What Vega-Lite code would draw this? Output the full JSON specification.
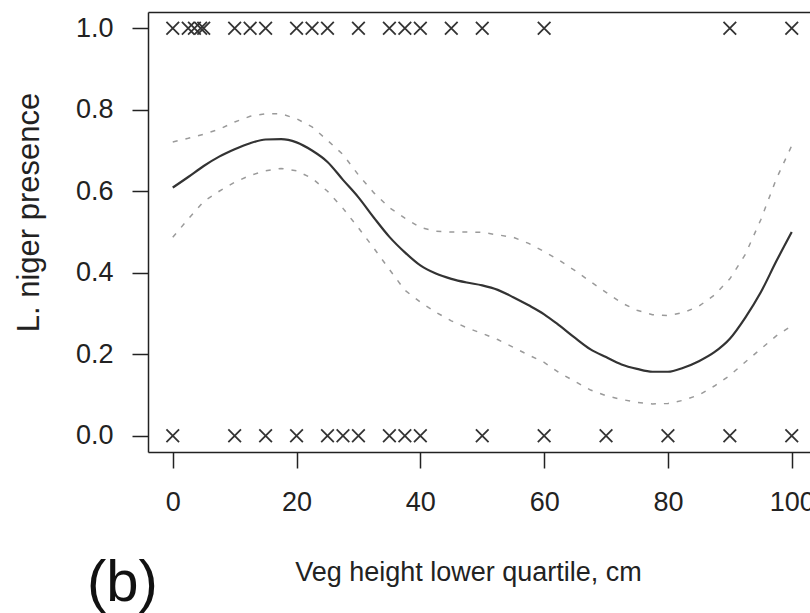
{
  "$schema": "https://vega.github.io/schema/vega-lite/v6.json",
  "width": 662,
  "height": 440,
  "autosize": {"type": "none"},
  "padding": {"left": 148, "top": 12, "right": 0, "bottom": 161},
  "background": "white",
  "config": {
    "view": {"stroke": null},
    "font": "Liberation Sans",
    "axis": {
      "grid": false,
      "labelFont": "Liberation Sans",
      "titleFont": "Liberation Sans",
      "labelFontSize": 27,
      "titleFontSize": 27,
      "titleFontWeight": "normal",
      "labelColor": "#222",
      "titleColor": "#222",
      "domainColor": "#222",
      "domainWidth": 1.5,
      "tickColor": "#222",
      "tickWidth": 1.5,
      "tickSize": 16
    }
  },
  "title": {
    "text": "(b)",
    "orient": "bottom",
    "anchor": "start",
    "frame": "group",
    "fontSize": 58,
    "fontWeight": "normal",
    "font": "Liberation Sans",
    "color": "#111",
    "dx": -61,
    "offset": -30
  },
  "datasets": {
    "fit": [
      {"veg": 0, "fit": 0.609, "upper": 0.721, "lower": 0.487},
      {"veg": 2.5, "fit": 0.635, "upper": 0.730, "lower": 0.532},
      {"veg": 5, "fit": 0.662, "upper": 0.740, "lower": 0.575},
      {"veg": 7.5, "fit": 0.685, "upper": 0.752, "lower": 0.600},
      {"veg": 10, "fit": 0.703, "upper": 0.770, "lower": 0.622},
      {"veg": 12.5, "fit": 0.718, "upper": 0.784, "lower": 0.639},
      {"veg": 15, "fit": 0.727, "upper": 0.790, "lower": 0.650},
      {"veg": 17.5, "fit": 0.728, "upper": 0.790, "lower": 0.656},
      {"veg": 20, "fit": 0.720, "upper": 0.778, "lower": 0.650},
      {"veg": 22.5, "fit": 0.700, "upper": 0.758, "lower": 0.632},
      {"veg": 25, "fit": 0.672, "upper": 0.725, "lower": 0.600},
      {"veg": 27.5, "fit": 0.628, "upper": 0.690, "lower": 0.558},
      {"veg": 30, "fit": 0.585, "upper": 0.640, "lower": 0.510},
      {"veg": 32.5, "fit": 0.535, "upper": 0.596, "lower": 0.460},
      {"veg": 35, "fit": 0.488, "upper": 0.560, "lower": 0.408},
      {"veg": 37.5, "fit": 0.450, "upper": 0.534, "lower": 0.357},
      {"veg": 40, "fit": 0.418, "upper": 0.511, "lower": 0.328},
      {"veg": 42.5, "fit": 0.398, "upper": 0.502, "lower": 0.303},
      {"veg": 45, "fit": 0.385, "upper": 0.500, "lower": 0.282},
      {"veg": 47.5, "fit": 0.376, "upper": 0.500, "lower": 0.265},
      {"veg": 50, "fit": 0.369, "upper": 0.499, "lower": 0.251},
      {"veg": 52.5, "fit": 0.358, "upper": 0.493, "lower": 0.236},
      {"veg": 55, "fit": 0.340, "upper": 0.487, "lower": 0.217},
      {"veg": 57.5, "fit": 0.320, "upper": 0.472, "lower": 0.198},
      {"veg": 60, "fit": 0.298, "upper": 0.452, "lower": 0.180},
      {"veg": 62.5, "fit": 0.270, "upper": 0.430, "lower": 0.154},
      {"veg": 65, "fit": 0.240, "upper": 0.405, "lower": 0.133},
      {"veg": 67.5, "fit": 0.212, "upper": 0.378, "lower": 0.112},
      {"veg": 70, "fit": 0.193, "upper": 0.352, "lower": 0.098},
      {"veg": 72.5, "fit": 0.175, "upper": 0.326, "lower": 0.089},
      {"veg": 75, "fit": 0.164, "upper": 0.308, "lower": 0.082},
      {"veg": 77.5, "fit": 0.157, "upper": 0.297, "lower": 0.078},
      {"veg": 80, "fit": 0.157, "upper": 0.295, "lower": 0.079},
      {"veg": 82.5, "fit": 0.167, "upper": 0.302, "lower": 0.087},
      {"veg": 85, "fit": 0.183, "upper": 0.318, "lower": 0.100},
      {"veg": 87.5, "fit": 0.205, "upper": 0.345, "lower": 0.122},
      {"veg": 90, "fit": 0.238, "upper": 0.385, "lower": 0.148},
      {"veg": 92.5, "fit": 0.290, "upper": 0.445, "lower": 0.181},
      {"veg": 95, "fit": 0.352, "upper": 0.530, "lower": 0.213},
      {"veg": 97.5, "fit": 0.428, "upper": 0.630, "lower": 0.245},
      {"veg": 100, "fit": 0.500, "upper": 0.712, "lower": 0.270}
    ],
    "obs": [
      {"veg": 0, "presence": 1}, {"veg": 2.5, "presence": 1}, {"veg": 3.5, "presence": 1}, {"veg": 4.5, "presence": 1}, {"veg": 5, "presence": 1},
      {"veg": 10, "presence": 1}, {"veg": 12.5, "presence": 1}, {"veg": 15, "presence": 1},
      {"veg": 20, "presence": 1}, {"veg": 22.5, "presence": 1}, {"veg": 25, "presence": 1},
      {"veg": 30, "presence": 1}, {"veg": 35, "presence": 1}, {"veg": 37.5, "presence": 1}, {"veg": 40, "presence": 1},
      {"veg": 45, "presence": 1}, {"veg": 50, "presence": 1}, {"veg": 60, "presence": 1},
      {"veg": 90, "presence": 1}, {"veg": 100, "presence": 1},
      {"veg": 0, "presence": 0}, {"veg": 10, "presence": 0}, {"veg": 15, "presence": 0}, {"veg": 20, "presence": 0},
      {"veg": 25, "presence": 0}, {"veg": 27.5, "presence": 0}, {"veg": 30, "presence": 0},
      {"veg": 35, "presence": 0}, {"veg": 37.5, "presence": 0}, {"veg": 40, "presence": 0},
      {"veg": 50, "presence": 0}, {"veg": 60, "presence": 0}, {"veg": 70, "presence": 0},
      {"veg": 80, "presence": 0}, {"veg": 90, "presence": 0}, {"veg": 100, "presence": 0}
    ]
  },
  "resolve": {"axis": {"x": "independent"}},
  "layer": [
    {
      "data": {"name": "obs"},
      "mark": {"type": "point", "shape": "M-1,-1L1,1M-1,1L1,-1", "filled": false, "stroke": "#333", "strokeWidth": 1.8, "size": 160, "opacity": 1},
      "encoding": {
        "x": {"field": "veg", "type": "quantitative",
              "scale": {"domain": [-4, 102.95], "nice": false, "zero": false},
              "axis": {"orient": "bottom", "values": [0, 20, 40, 60, 80, 100], "labelPadding": 21,
                       "title": "Veg height lower quartile, cm", "titleX": 320, "titleY": 128, "titleBaseline": "alphabetic", "titleAlign": "center"}},
        "y": {"field": "presence", "type": "quantitative",
              "scale": {"domain": [-0.04, 1.04], "nice": false, "zero": false},
              "axis": {"values": [0, 0.2, 0.4, 0.6, 0.8, 1], "format": ".1f", "labelPadding": 19,
                       "title": "L. niger presence", "titleFontSize": 31, "titleX": -110, "titleY": 200, "titleAngle": -90, "titleBaseline": "alphabetic", "titleAlign": "center"}}
      }
    },
    {
      "data": {"name": "fit"},
      "mark": {"type": "line", "stroke": "#9a9a9a", "strokeWidth": 1.5, "strokeDash": [5, 8]},
      "encoding": {
        "x": {"field": "veg", "type": "quantitative", "axis": {"orient": "top", "labels": false, "ticks": false, "title": null}},
        "y": {"field": "upper", "type": "quantitative"}
      }
    },
    {
      "data": {"name": "fit"},
      "mark": {"type": "line", "stroke": "#9a9a9a", "strokeWidth": 1.5, "strokeDash": [5, 8]},
      "encoding": {
        "x": {"field": "veg", "type": "quantitative", "axis": null},
        "y": {"field": "lower", "type": "quantitative"}
      }
    },
    {
      "data": {"name": "fit"},
      "mark": {"type": "line", "stroke": "#333", "strokeWidth": 2.2, "interpolate": "monotone"},
      "encoding": {
        "x": {"field": "veg", "type": "quantitative", "axis": null},
        "y": {"field": "fit", "type": "quantitative"}
      }
    }
  ]
}
